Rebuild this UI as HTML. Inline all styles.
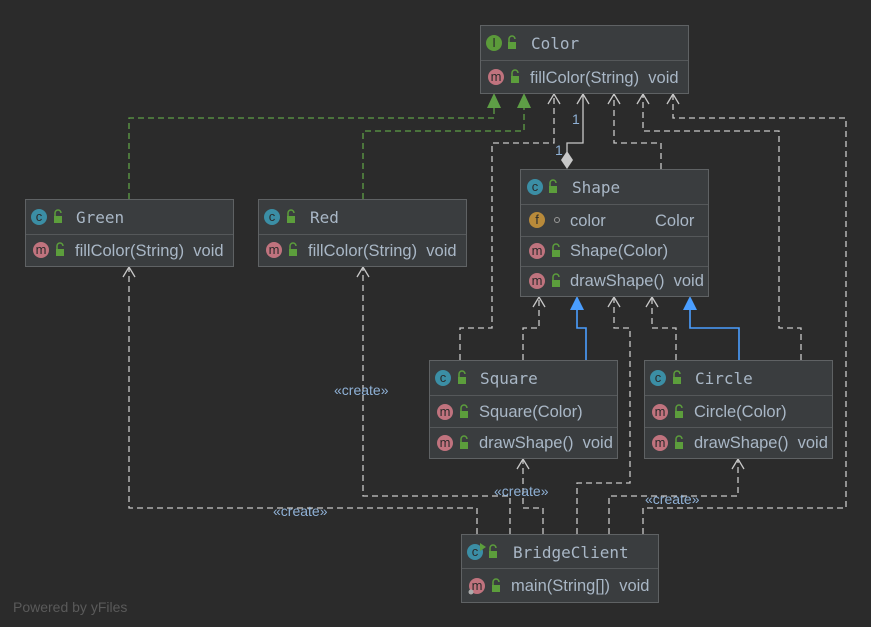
<!DOCTYPE html>
<html><head><meta charset="utf-8"><style>
html,body{margin:0;padding:0;background:#2b2b2b;}
svg{display:block;}
.h{font-family:"DejaVu Sans Mono","Liberation Mono",monospace;font-size:16px;fill:#a9b7c6;}
.r{font-family:"Liberation Sans",sans-serif;font-size:16.5px;fill:#a9b7c6;white-space:pre;}
.ic{font-family:"Liberation Sans",sans-serif;font-size:13px;fill:#2b2b2b;text-anchor:middle;}
.d{fill:none;stroke:#c8c8c8;stroke-width:1.3;stroke-dasharray:6,4;}
.g{fill:none;stroke:#5e9e46;stroke-width:1.3;stroke-dasharray:6,4;}
.s{fill:none;stroke:#c8c8c8;stroke-width:1.3;}
.b{fill:none;stroke:#4a9eff;stroke-width:1.6;}
.oa{fill:none;stroke:#c8c8c8;stroke-width:1.3;}
.lbl{font-family:"Liberation Sans",sans-serif;font-size:14px;fill:#8fb1d6;}
</style></head><body>
<svg width="871" height="627" viewBox="0 0 871 627" xmlns="http://www.w3.org/2000/svg">
<defs>
<g id="lock"><rect x="-4" y="-1" width="8" height="7" fill="#5c9e3c"/><path d="M-3,-1 v-3 a3,3 0 0 1 6,0" fill="none" stroke="#5c9e3c" stroke-width="1.5"/></g>
</defs>

<path class="g" d="M129,199 V118 H494 V108"/>
<polygon points="494,93 487,108 501,108" fill="#5e9e46"/>
<path class="g" d="M363,199 V131 H524 V108"/>
<polygon points="524,93 517,108 531,108" fill="#5e9e46"/>
<path class="d" d="M460,360 V328 H492 V143 H554 V95"/>
<path class="oa" d="M548,104 L554,94 L560,104"/>
<path class="s" d="M567,152 V143 H583 V94"/>
<path class="oa" d="M577,104 L583,94 L589,104"/>
<polygon points="567,151 573,160 567,169 561,160" fill="#c8c8c8"/>
<text class="lbl" x="572" y="124">1</text>
<text class="lbl" x="555" y="155">1</text>
<path class="d" d="M661,169 V143 H614 V95"/>
<path class="oa" d="M608,104 L614,94 L620,104"/>
<path class="d" d="M801,360 V328 H779 V131 H643 V95"/>
<path class="oa" d="M637,104 L643,94 L649,104"/>
<path class="d" d="M643,534 V508 H846 V118 H673 V95"/>
<path class="oa" d="M667,104 L673,94 L679,104"/>
<path class="d" d="M523,360 V328 H539 V298"/>
<path class="oa" d="M533,307 L539,297 L545,307"/>
<path class="b" d="M586,360 V328 H577 V310"/>
<polygon points="577,296 570,310 584,310" fill="#4a9eff"/>
<path class="d" d="M577,534 V483 H630 V328 H614 V298"/>
<path class="oa" d="M608,307 L614,297 L620,307"/>
<path class="d" d="M676,360 V328 H652 V298"/>
<path class="oa" d="M646,307 L652,297 L658,307"/>
<path class="b" d="M739,360 V328 H690 V310"/>
<polygon points="690,296 683,310 697,310" fill="#4a9eff"/>
<path class="d" d="M543,534 V508 H523 V460"/>
<path class="oa" d="M517,469 L523,459 L529,469"/>
<path class="d" d="M609,534 V496 H738 V460"/>
<path class="oa" d="M732,469 L738,459 L744,469"/>
<path class="d" d="M477,534 V508 H129 V268"/>
<path class="oa" d="M123,277 L129,267 L135,277"/>
<path class="d" d="M510,534 V496 H363 V268"/>
<path class="oa" d="M357,277 L363,267 L369,277"/>

<text class="lbl" x="334" y="395">«create»</text>
<text class="lbl" x="494" y="496">«create»</text>
<text class="lbl" x="645" y="504">«create»</text>
<text class="lbl" x="273" y="516">«create»</text>

<g>
<rect x="480.5" y="25.5" width="208" height="68" fill="#3a3d3f" stroke="#5f6264"/>
<line x1="481" y1="60.5" x2="688" y2="60.5" stroke="#55585a"/>
<circle cx="494" cy="43" r="8" fill="#5b9a3a"/><text class="ic" x="494" y="47">I</text>
<use href="#lock" x="512" y="43"/>
<text class="h" x="531" y="49">Color</text>
<circle cx="496" cy="77" r="8" fill="#c0737e"/><text class="ic" x="496" y="81">m</text>
<use href="#lock" x="515" y="77"/>
<text class="r" x="530" y="83">fillColor(String)  void</text>
</g>

<g>
<rect x="520.5" y="169.5" width="188" height="127" fill="#3a3d3f" stroke="#5f6264"/>
<line x1="521" y1="204.5" x2="708" y2="204.5" stroke="#55585a"/>
<line x1="521" y1="236.5" x2="708" y2="236.5" stroke="#55585a"/>
<line x1="521" y1="266.5" x2="708" y2="266.5" stroke="#55585a"/>
<circle cx="535" cy="187" r="8" fill="#3b8ea5"/><text class="ic" x="535" y="191">c</text>
<use href="#lock" x="553" y="187"/>
<text class="h" x="572" y="193">Shape</text>
<circle cx="537" cy="220" r="8" fill="#b88a3a"/><text class="ic" x="537" y="224">f</text>
<circle cx="557" cy="220" r="2.5" fill="none" stroke="#999"/>
<text class="r" x="570" y="226">color</text><text class="r" x="655" y="226">Color</text>
<circle cx="537" cy="251" r="8" fill="#c0737e"/><text class="ic" x="537" y="255">m</text>
<use href="#lock" x="556" y="251"/>
<text class="r" x="570" y="256">Shape(Color)</text>
<circle cx="537" cy="281" r="8" fill="#c0737e"/><text class="ic" x="537" y="285">m</text>
<use href="#lock" x="556" y="281"/>
<text class="r" x="570" y="286">drawShape()  void</text>
</g>

<g>
<rect x="25.5" y="199.5" width="208" height="67" fill="#3a3d3f" stroke="#5f6264"/>
<line x1="26" y1="234.5" x2="233" y2="234.5" stroke="#55585a"/>
<circle cx="39" cy="217" r="8" fill="#3b8ea5"/><text class="ic" x="39" y="221">c</text>
<use href="#lock" x="58" y="217"/>
<text class="h" x="76" y="223">Green</text>
<circle cx="41" cy="250" r="8" fill="#c0737e"/><text class="ic" x="41" y="254">m</text>
<use href="#lock" x="60" y="250"/>
<text class="r" x="75" y="256">fillColor(String)  void</text>
</g>

<g>
<rect x="258.5" y="199.5" width="208" height="67" fill="#3a3d3f" stroke="#5f6264"/>
<line x1="259" y1="234.5" x2="466" y2="234.5" stroke="#55585a"/>
<circle cx="272" cy="217" r="8" fill="#3b8ea5"/><text class="ic" x="272" y="221">c</text>
<use href="#lock" x="291" y="217"/>
<text class="h" x="310" y="223">Red</text>
<circle cx="274" cy="250" r="8" fill="#c0737e"/><text class="ic" x="274" y="254">m</text>
<use href="#lock" x="293" y="250"/>
<text class="r" x="308" y="256">fillColor(String)  void</text>
</g>

<g>
<rect x="429.5" y="360.5" width="188" height="98" fill="#3a3d3f" stroke="#5f6264"/>
<line x1="430" y1="395.5" x2="617" y2="395.5" stroke="#55585a"/>
<line x1="430" y1="427.5" x2="617" y2="427.5" stroke="#55585a"/>
<circle cx="443" cy="378" r="8" fill="#3b8ea5"/><text class="ic" x="443" y="382">c</text>
<use href="#lock" x="462" y="378"/>
<text class="h" x="480" y="384">Square</text>
<circle cx="445" cy="412" r="8" fill="#c0737e"/><text class="ic" x="445" y="416">m</text>
<use href="#lock" x="464" y="412"/>
<text class="r" x="479" y="417">Square(Color)</text>
<circle cx="445" cy="443" r="8" fill="#c0737e"/><text class="ic" x="445" y="447">m</text>
<use href="#lock" x="464" y="443"/>
<text class="r" x="479" y="448">drawShape()  void</text>
</g>

<g>
<rect x="644.5" y="360.5" width="188" height="98" fill="#3a3d3f" stroke="#5f6264"/>
<line x1="645" y1="395.5" x2="832" y2="395.5" stroke="#55585a"/>
<line x1="645" y1="427.5" x2="832" y2="427.5" stroke="#55585a"/>
<circle cx="658" cy="378" r="8" fill="#3b8ea5"/><text class="ic" x="658" y="382">c</text>
<use href="#lock" x="677" y="378"/>
<text class="h" x="695" y="384">Circle</text>
<circle cx="660" cy="412" r="8" fill="#c0737e"/><text class="ic" x="660" y="416">m</text>
<use href="#lock" x="679" y="412"/>
<text class="r" x="694" y="417">Circle(Color)</text>
<circle cx="660" cy="443" r="8" fill="#c0737e"/><text class="ic" x="660" y="447">m</text>
<use href="#lock" x="679" y="443"/>
<text class="r" x="694" y="448">drawShape()  void</text>
</g>

<g>
<rect x="461.5" y="534.5" width="197" height="68" fill="#3a3d3f" stroke="#5f6264"/>
<line x1="462" y1="568.5" x2="658" y2="568.5" stroke="#55585a"/>
<circle cx="475" cy="552" r="8" fill="#3b8ea5"/><text class="ic" x="475" y="556">c</text>
<polygon points="480,543 486,547 480,551" fill="#5c9e3c"/>
<use href="#lock" x="493" y="552"/>
<text class="h" x="513" y="558">BridgeClient</text>
<circle cx="477" cy="586" r="8" fill="#c0737e"/><text class="ic" x="477" y="590">m</text>
<circle cx="471" cy="592" r="2.5" fill="#aaa"/>
<use href="#lock" x="496" y="586"/>
<text class="r" x="511" y="591">main(String[])  void</text>
</g>

<text x="13" y="612" font-family="Liberation Sans, sans-serif" font-size="14" fill="#5a5a5a">Powered by yFiles</text>
</svg>
</body></html>
